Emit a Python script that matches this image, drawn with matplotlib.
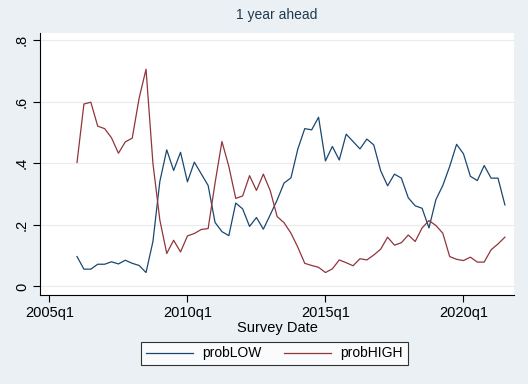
import numpy as np
import pandas as pd
import matplotlib
matplotlib.use("Agg")
import matplotlib.pyplot as plt

plt.rcParams["font.family"] = ["Liberation Sans", "DejaVu Sans"]

# Data (quarterly, 2006q1 - 2021q3)
quarters = pd.period_range("2006Q1", "2021Q3", freq="Q")

prob_low = [0.097, 0.056, 0.056, 0.072, 0.072, 0.080, 0.073, 0.085, 0.075, 0.068,
            0.045, 0.146, 0.341, 0.444, 0.377, 0.436, 0.340, 0.404, 0.366, 0.328,
            0.208, 0.178, 0.165, 0.271, 0.252, 0.195, 0.224, 0.186, 0.233, 0.281,
            0.336, 0.353, 0.447, 0.513, 0.509, 0.550, 0.408, 0.455, 0.411, 0.495,
            0.471, 0.447, 0.479, 0.460, 0.376, 0.327, 0.365, 0.352, 0.288, 0.262,
            0.254, 0.190, 0.282, 0.328, 0.390, 0.462, 0.431, 0.358, 0.344, 0.393,
            0.352, 0.352, 0.265]

prob_high = [0.403, 0.593, 0.599, 0.521, 0.513, 0.483, 0.433, 0.470, 0.482, 0.612,
             0.706, 0.400, 0.216, 0.107, 0.150, 0.112, 0.164, 0.172, 0.185, 0.188,
             0.336, 0.471, 0.390, 0.286, 0.294, 0.360, 0.312, 0.365, 0.311, 0.227,
             0.207, 0.173, 0.127, 0.075, 0.068, 0.062, 0.045, 0.057, 0.086, 0.077,
             0.067, 0.090, 0.086, 0.102, 0.121, 0.160, 0.134, 0.142, 0.167, 0.146,
             0.190, 0.214, 0.198, 0.173, 0.097, 0.088, 0.084, 0.095, 0.079, 0.079,
             0.119, 0.138, 0.160]

xtick_years = [2005, 2010, 2015, 2020]
ytick_vals = [0, 0.2, 0.4, 0.6, 0.8]
ytick_labels = ["0", ".2", ".4", ".6", ".8"]

# x as fractional year
x = np.array([p.year + (p.quarter - 1) / 4 for p in quarters])

bg = "#EAF0F3"
navy = "#1a476f"
maroon = "#90353b"

fig = plt.figure(figsize=(5.28, 3.84), dpi=100)
fig.patch.set_facecolor(bg)
ax = fig.add_axes([0.0758, 0.2318, 0.8977, 0.6823])
ax.set_facecolor("white")

l1, = ax.plot(x, prob_low, color=navy, linewidth=0.9, label="probLOW")
l2, = ax.plot(x, prob_high, color=maroon, linewidth=0.9, label="probHIGH")

ax.set_xlim(2004.66, 2021.83)
ax.set_ylim(-0.028, 0.824)

ax.set_xticks(xtick_years)
ax.set_xticklabels([f"{y}q1" for y in xtick_years], fontsize=10.5)
ax.set_yticks(ytick_vals)
ax.set_yticklabels(ytick_labels, fontsize=10.5, rotation=90, va="center")

ax.grid(axis="y", color="#eaeaea", linewidth=0.8)
ax.set_axisbelow(True)

for s in ["top", "right"]:
    ax.spines[s].set_visible(False)
for s in ["left", "bottom"]:
    ax.spines[s].set_color("black")
    ax.spines[s].set_linewidth(0.8)

ax.tick_params(axis="both", length=5, width=0.8, color="black", pad=3)

ax.set_xlabel("Survey Date", fontsize=10.5, labelpad=1)
ax.set_title("1 year ahead", fontsize=10, color="#1e3a52", pad=10)

leg = fig.legend(handles=[l1, l2], loc="center", bbox_to_anchor=(0.52, 0.0797),
                 ncol=2, fontsize=10, frameon=True, fancybox=False,
                 edgecolor="black", handlelength=3.4, columnspacing=1.6,
                 borderpad=0.35, handletextpad=0.65, borderaxespad=0)
leg.get_frame().set_linewidth(0.8)

fig.savefig("out.png", dpi=100, facecolor=bg)
